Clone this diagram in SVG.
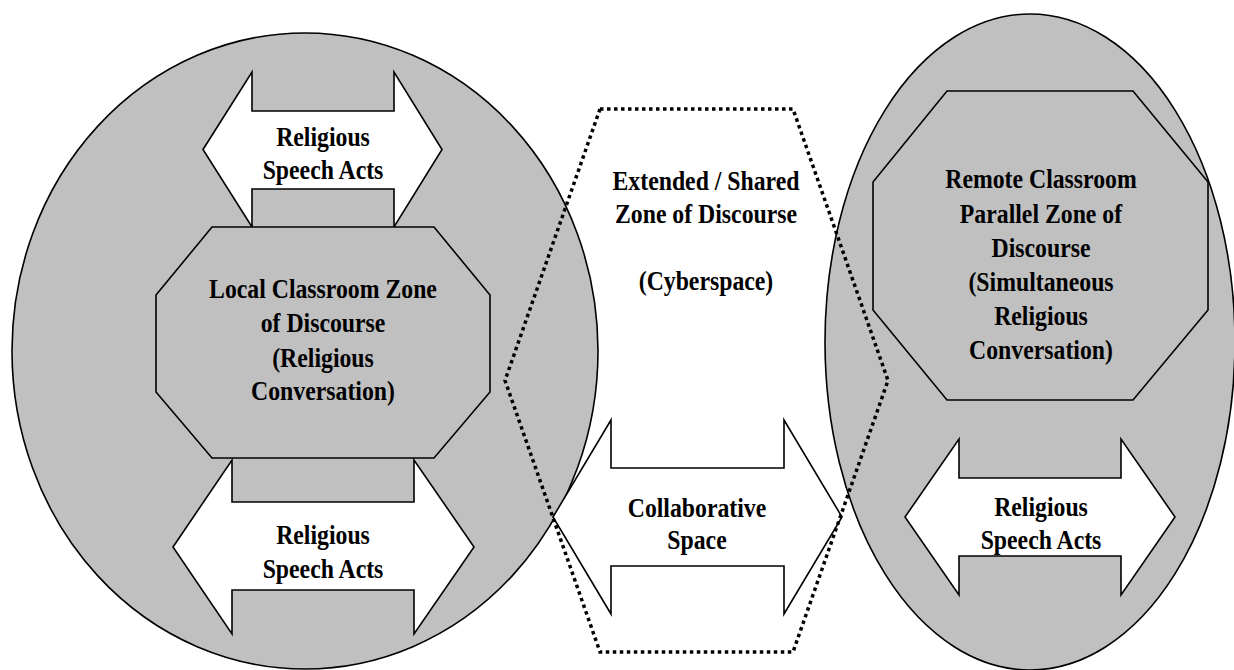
<svg xmlns="http://www.w3.org/2000/svg" width="1234" height="670" viewBox="0 0 1234 670">
  <style>
    .zone { fill: #c0c0c0; stroke: #000; stroke-width: 1.6; }
    .oct { fill: #c0c0c0; stroke: #000; stroke-width: 1.6; stroke-linejoin: miter; }
    .arrow { fill: #fff; stroke: #000; stroke-width: 1.6; stroke-linejoin: miter; }
    .shared { fill: none; stroke: #000; stroke-width: 3.5; stroke-dasharray: 3.5 3.5; }
    .lbl { font-family: "Liberation Serif", "Times New Roman", serif; font-weight: bold; font-size: 27px; text-anchor: middle; fill: #000; }
  </style>

  <!-- classroom zones -->
  <g id="local-zone">
    <ellipse class="zone" cx="305" cy="351" rx="293" ry="318"/>
  </g>
  <g id="remote-zone">
    <ellipse class="zone" cx="1030" cy="342" rx="205" ry="328"/>
  </g>

  <!-- local classroom -->
  <g id="local-speech-top">
    <path class="arrow" d="M203,149.5 L252,72 L252,111 L394,111 L394,72 L442,149.5 L394,227 L394,189 L252,189 L252,227 Z"/>
    <g class="lbl" transform="translate(323 0) scale(0.88 1)">
      <text x="0" y="146">Religious</text>
      <text x="0" y="179">Speech Acts</text>
    </g>
  </g>
  <g id="local-discourse">
    <polygon class="oct" points="212,227 434,227 490,295 490,392 434,458 212,458 156,392 156,295"/>
    <g class="lbl" transform="translate(323 0) scale(0.88 1)">
      <text x="0" y="298">Local Classroom Zone</text>
      <text x="0" y="332">of Discourse</text>
      <text x="0" y="367">(Religious</text>
      <text x="0" y="400">Conversation)</text>
    </g>
  </g>
  <g id="local-speech-bottom">
    <path class="arrow" d="M173,547 L232,460 L232,502 L414,502 L414,460 L474,547 L414,634 L414,590 L232,590 L232,634 Z"/>
    <g class="lbl" transform="translate(323 0) scale(0.88 1)">
      <text x="0" y="544">Religious</text>
      <text x="0" y="578">Speech Acts</text>
    </g>
  </g>

  <!-- remote classroom -->
  <g id="remote-discourse">
    <polygon class="oct" points="947,91 1133,91 1208,182 1208,310 1133,400 947,400 873,310 873,182"/>
    <g class="lbl" transform="translate(1041 0) scale(0.88 1)">
      <text x="0" y="188">Remote Classroom</text>
      <text x="0" y="223">Parallel Zone of</text>
      <text x="0" y="257">Discourse</text>
      <text x="0" y="291">(Simultaneous</text>
      <text x="0" y="325">Religious</text>
      <text x="0" y="359">Conversation)</text>
    </g>
  </g>
  <g id="remote-speech">
    <path class="arrow" d="M905,517 L959,439 L959,478 L1121,478 L1121,439 L1175,517 L1121,595 L1121,556 L959,556 L959,595 Z"/>
    <g class="lbl" transform="translate(1041 0) scale(0.88 1)">
      <text x="0" y="516">Religious</text>
      <text x="0" y="549">Speech Acts</text>
    </g>
  </g>

  <!-- shared zone between the classrooms -->
  <g id="collaborative-space">
    <path class="arrow" d="M553,517 L611,420 L611,468 L784,468 L784,420 L842,517 L784,614 L784,566 L611,566 L611,614 Z"/>
    <g class="lbl" transform="translate(697 0) scale(0.88 1)">
      <text x="0" y="517">Collaborative</text>
      <text x="0" y="549">Space</text>
    </g>
  </g>
  <g id="shared-zone">
    <polygon class="shared" points="600,109 793,109 888,380.5 793,652 600,652 505,380.5"/>
    <g class="lbl" transform="translate(706 0) scale(0.88 1)">
      <text x="0" y="190">Extended / Shared</text>
      <text x="0" y="223">Zone of Discourse</text>
      <text x="0" y="290">(Cyberspace)</text>
    </g>
  </g>

  <!-- no directed connectors in this figure -->
  <g id="connectors"/>
</svg>
